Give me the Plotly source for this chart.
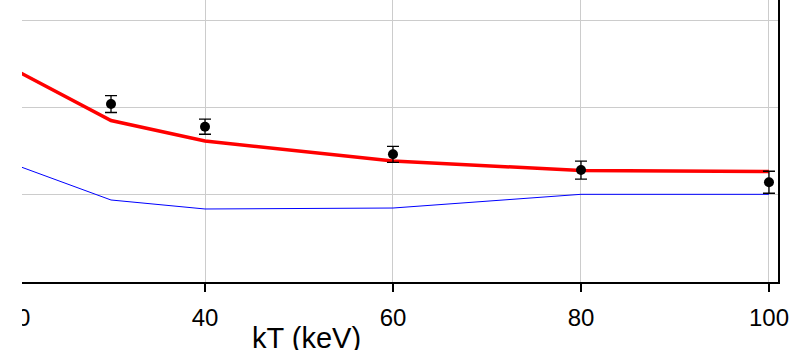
import plotly.graph_objects as go

# Data
kT_model = [20, 30, 40, 60, 80, 100]
red_model = [2.416, 1.849, 1.615, 1.386, 1.277, 1.265]
blue_model = [1.334, 0.939, 0.836, 0.847, 1.004, 1.004]

kT_obs = [30, 40, 60, 80, 100]
obs_vals = [2.038, 1.778, 1.462, 1.282, 1.142]
obs_err = [0.097, 0.086, 0.092, 0.103, 0.126]

x_ticks = [20, 40, 60, 80, 100]
y_ticks = [0, 1, 2, 3]

FONT = "Arial, Liberation Sans, Helvetica, sans-serif"

fig = go.Figure()
fig.add_trace(go.Scatter(x=kT_model, y=blue_model, mode="lines",
                         line=dict(color="#0000ff", width=1), showlegend=False))
fig.add_trace(go.Scatter(x=kT_model, y=red_model, mode="lines",
                         line=dict(color="#ff0000", width=3.5), showlegend=False))
fig.add_trace(go.Scatter(x=kT_obs, y=obs_vals, mode="markers",
                         marker=dict(color="black", size=10),
                         error_y=dict(type="data", array=obs_err, color="black",
                                      thickness=1.3, width=6),
                         showlegend=False))

fig.update_layout(
    width=789, height=350,
    margin=dict(l=0, r=11, t=0, b=68),
    paper_bgcolor="white", plot_bgcolor="white",
    font=dict(family=FONT, color="black"),
    xaxis=dict(range=[18.19, 100.96], tickvals=x_ticks, ticktext=[str(v) for v in x_ticks],
               showgrid=True, gridcolor="#cccccc", gridwidth=1,
               showline=True, linecolor="black", linewidth=2,
               ticks="outside", ticklen=8, tickwidth=1.5, tickcolor="black",
               ticklabelstandoff=5, ticklabeloverflow="allow",
               tickfont=dict(size=24, family=FONT), zeroline=False),
    yaxis=dict(range=[0, 3.229], tickvals=y_ticks,
               showgrid=True, gridcolor="#cccccc", gridwidth=1,
               showline=True, mirror=True, linecolor="black", linewidth=2,
               showticklabels=False, ticks="", zeroline=False),
    shapes=[dict(type="rect", xref="paper", yref="paper", x0=-0.05, x1=22 / 778,
                 y0=-1, y1=1.1, fillcolor="white", line=dict(width=0), layer="above")],
    annotations=[dict(text="kT (keV)", xref="paper", yref="paper", x=306 / 778, y=0,
                      xanchor="center", yanchor="middle", yshift=-56, showarrow=False,
                      font=dict(size=29, family=FONT, color="black"))],
)

fig.write_html("out.html", config={"displayModeBar": False},
               post_script="document.body.style.margin='0';document.body.style.overflow='hidden';")
